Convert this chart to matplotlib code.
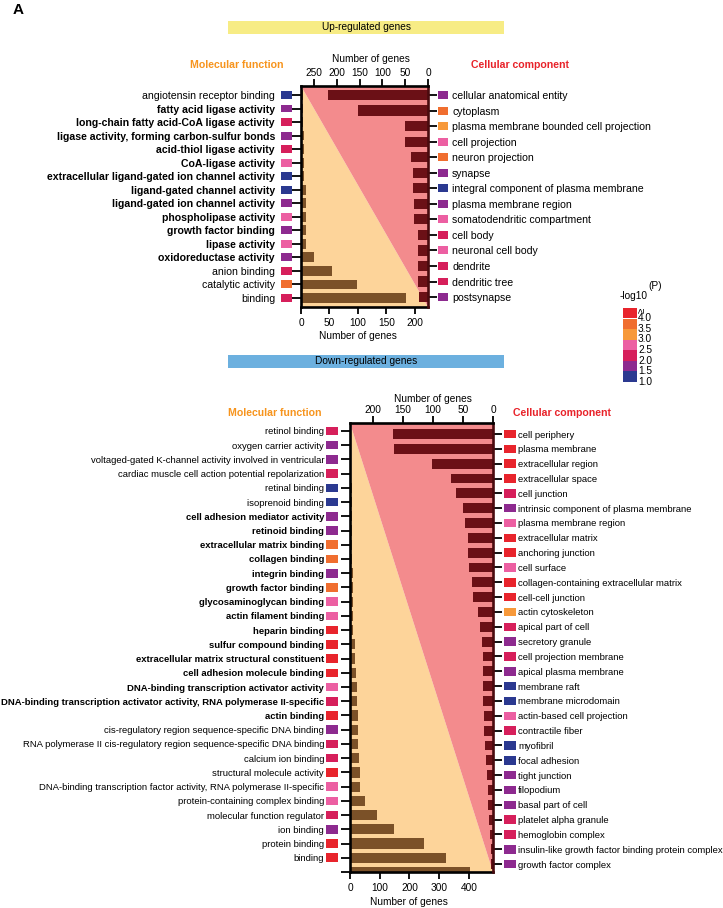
import matplotlib.pyplot as plt
from matplotlib.patches import Polygon, Rectangle
from matplotlib.transforms import ScaledTranslation

plt.rcParams['font.family'] = ['Liberation Sans', 'DejaVu Sans']

# colour classes for -log10(P)
RED = '#e8242c'
ORANGE = '#f06e2f'
LORANGE = '#f7993a'
PINK = '#ec5fa2'
CRIMSON = '#d61f5b'
PURPLE = '#8d2a8f'
BLUE = '#2b3990'

legend_labels = ['4.0', '3.5', '3.0', '2.5', '2.0', '1.5', '1.0']
legend_colors = [RED, ORANGE, LORANGE, PINK, CRIMSON, PURPLE, BLUE]

MF_BAR = '#7b5128'
CC_BAR = '#6b1016'
TRI_MF = '#fdd49a'
TRI_CC = '#f38b8d'

# ---- Up-regulated genes ----
up_mf_terms = ['angiotensin receptor binding', 'fatty acid ligase activity',
               'long-chain fatty acid-CoA ligase activity',
               'ligase activity, forming carbon-sulfur bonds', 'acid-thiol ligase activity',
               'CoA-ligase activity', 'extracellular ligand-gated ion channel activity',
               'ligand-gated channel activity', 'ligand-gated ion channel activity',
               'phospholipase activity', 'growth factor binding', 'lipase activity',
               'oxidoreductase activity', 'anion binding', 'catalytic activity', 'binding']
up_mf_counts = [3, 4, 4, 5, 5, 5, 6, 8, 8, 8, 9, 9, 23, 54, 98, 184]
up_mf_colors = [BLUE, PURPLE, CRIMSON, PURPLE, CRIMSON, PINK, BLUE, BLUE, PURPLE,
                PINK, PURPLE, PINK, PURPLE, CRIMSON, ORANGE, CRIMSON]
up_mf_bold = [False] + [True] * 12 + [False] * 3

up_cc_terms = ['cellular anatomical entity', 'cytoplasm',
               'plasma membrane bounded cell projection', 'cell projection',
               'neuron projection', 'synapse', 'integral component of plasma membrane',
               'plasma membrane region', 'somatodendritic compartment', 'cell body',
               'neuronal cell body', 'dendrite', 'dendritic tree', 'postsynapse']
up_cc_counts = [219, 153, 50, 50, 38, 32, 32, 31, 30, 23, 23, 23, 23, 20]
up_cc_colors = [PURPLE, ORANGE, LORANGE, PINK, ORANGE, PURPLE, BLUE, PURPLE, PINK,
                CRIMSON, PINK, CRIMSON, CRIMSON, PURPLE]

# ---- Down-regulated genes ----
dn_mf_terms = ['retinol binding', 'oxygen carrier activity',
               'voltaged-gated K-channel activity involved in ventricular',
               'cardiac muscle cell action potential repolarization', 'retinal binding',
               'isoprenoid binding', 'cell adhesion mediator activity', 'retinoid binding',
               'extracellular matrix binding', 'collagen binding', 'integrin binding',
               'growth factor binding', 'glycosaminoglycan binding', 'actin filament binding',
               'heparin binding', 'sulfur compound binding',
               'extracellular matrix structural constituent', 'cell adhesion molecule binding',
               'DNA-binding transcription activator activity',
               'DNA-binding transcription activator activity, RNA polymerase II-specific',
               'actin binding', 'cis-regulatory region sequence-specific DNA binding',
               'RNA polymerase II cis-regulatory region sequence-specific DNA binding',
               'calcium ion binding', 'structural molecule activity',
               'DNA-binding transcription factor activity, RNA polymerase II-specific',
               'protein-containing complex binding', 'molecular function regulator',
               'ion binding', 'protein binding', 'binding', '']
dn_mf_counts = [5, 5, 5, 5, 6, 6, 6, 7, 7, 8, 9, 9, 11, 11, 11, 17, 17, 20, 25, 25, 26,
                28, 28, 30, 34, 34, 50, 90, 148, 250, 322, 404]
dn_mf_colors = [CRIMSON, PURPLE, PURPLE, CRIMSON, BLUE, BLUE, PURPLE, PURPLE, ORANGE,
                ORANGE, PURPLE, ORANGE, PINK, PINK, RED, RED, RED, RED, PINK, CRIMSON,
                RED, PURPLE, CRIMSON, CRIMSON, RED, PINK, PINK, CRIMSON, PURPLE, RED, RED,
                'none']
dn_mf_bold = [False] * 6 + [True] * 15 + [False] * 11

dn_cc_terms = ['cell periphery', 'plasma membrane', 'extracellular region',
               'extracellular space', 'cell junction',
               'intrinsic component of plasma membrane', 'plasma membrane region',
               'extracellular matrix', 'anchoring junction', 'cell surface',
               'collagen-containing extracellular matrix', 'cell-cell junction',
               'actin cytoskeleton', 'apical part of cell', 'secretory granule',
               'cell projection membrane', 'apical plasma membrane', 'membrane raft',
               'membrane microdomain', 'actin-based cell projection', 'contractile fiber',
               'myofibril', 'focal adhesion', 'tight junction', 'filopodium',
               'basal part of cell', 'platelet alpha granule', 'hemoglobin complex',
               'insulin-like growth factor binding protein complex', 'growth factor complex']
dn_cc_counts = [167, 165, 102, 70, 62, 50, 46, 41, 41, 40, 35, 33, 25, 22, 19, 17, 17,
                17, 17, 15, 15, 13, 11, 10, 9, 8, 6, 5, 4, 3]
dn_cc_colors = [RED, RED, RED, RED, CRIMSON, PURPLE, PINK, RED, RED, PINK, RED, RED,
                LORANGE, CRIMSON, PURPLE, CRIMSON, PURPLE, BLUE, BLUE, PINK, CRIMSON,
                BLUE, BLUE, PURPLE, PURPLE, PURPLE, CRIMSON, CRIMSON, PURPLE, PURPLE]

W, H = 723, 908
fig = plt.figure(figsize=(W / 100, H / 100), dpi=100)


def px_rect(left, top, right, bottom):
    return [left / W, 1 - bottom / H, (right - left) / W, (bottom - top) / H]


def marks(ax, n, colors, dx, size, ratio):
    # coloured p-value boxes beside the tick labels
    tr = ax.get_yaxis_transform() + ScaledTranslation(dx / 100, 0, fig.dpi_scale_trans)
    verts = [(-0.5, -0.5 * ratio), (0.5, -0.5 * ratio), (0.5, 0.5 * ratio), (-0.5, 0.5 * ratio)]
    side = 0 if dx < 0 else 1
    ax.scatter([side] * n, range(n), s=size ** 2, c=colors, marker=verts,
               transform=tr, clip_on=False, linewidths=0, zorder=5)


def panel(rect, mf_terms, mf_counts, mf_colors, mf_bold, cc_terms, cc_counts, cc_colors,
          mf_lim, cc_lim, mf_ylim, cc_ylim, mf_ticks, cc_ticks, fs, box, boxdx, lab):
    ax = fig.add_axes(rect)
    ax.add_patch(Polygon([[0, 1], [0, 0], [1, 0]], closed=True, transform=ax.transAxes,
                         facecolor=TRI_MF, edgecolor='none', zorder=0))
    ax.add_patch(Polygon([[0, 1], [1, 1], [1, 0]], closed=True, transform=ax.transAxes,
                         facecolor=TRI_CC, edgecolor='none', zorder=0))
    n = len(mf_terms)
    ax.barh(range(n), mf_counts, height=0.72, color=MF_BAR, zorder=2)
    ax.set_xlim(*mf_lim)
    ax.set_ylim(*mf_ylim)
    ax.set_xticks(mf_ticks)
    ax.set_yticks(range(n))
    ax.set_yticklabels(mf_terms)
    for t, b in zip(ax.get_yticklabels(), mf_bold):
        if b:
            t.set_fontweight('bold')
    ax.tick_params(axis='y', length=6.5, width=1.3, pad=boxdx[2], labelsize=fs)
    ax.tick_params(axis='x', length=5, width=1.3, pad=3, labelsize=7.3)
    for s in ['top', 'right']:
        ax.spines[s].set_visible(False)
    for s in ['left', 'bottom']:
        ax.spines[s].set_linewidth(1.9)
    ax.set_xlabel('Number of genes', fontsize=7.3)
    ax.xaxis.set_label_coords(lab[0], lab[1])
    marks(ax, n, mf_colors, boxdx[0], box, 0.72)

    ax2 = fig.add_axes(rect)
    ax2.patch.set_visible(False)
    m = len(cc_terms)
    ax2.barh(range(m), cc_counts, height=0.66, color=CC_BAR, zorder=2)
    ax2.set_xlim(*cc_lim)
    ax2.set_ylim(*cc_ylim)
    ax2.xaxis.tick_top()
    ax2.xaxis.set_label_position('top')
    ax2.yaxis.tick_right()
    ax2.set_xticks(cc_ticks)
    ax2.set_yticks(range(m))
    ax2.set_yticklabels(cc_terms)
    ax2.tick_params(axis='y', length=6.5, width=1.3, pad=boxdx[3], labelsize=fs)
    ax2.tick_params(axis='x', length=5, width=1.3, pad=1, labelsize=7.3)
    for s in ['bottom', 'left']:
        ax2.spines[s].set_visible(False)
    ax2.spines['top'].set_linewidth(1.9)
    ax2.spines['right'].set_linewidth(1.9)
    ax2.spines['right'].set_color('#4a0a0e')
    ax2.set_xlabel('Number of genes', fontsize=7.3)
    ax2.xaxis.set_label_coords(lab[2], lab[3])
    marks(ax2, m, cc_colors, boxdx[1], box, 0.72)
    return ax, ax2


panel(px_rect(301, 86, 428, 307), up_mf_terms, up_mf_counts, up_mf_colors, up_mf_bold,
      up_cc_terms, up_cc_counts, up_cc_colors,
      (0, 223), (278.5, 0), (15.67, -0.665), (13.64, -0.58),
      [0, 50, 100, 150, 200], [0, 50, 100, 150, 200, 250],
      7.6, 7.9, (-14.5, 15, 12.2, 10.8), (0.449, -0.109, 0.551, 1.109))

panel(px_rect(350, 423, 493, 872), dn_mf_terms, dn_mf_counts, dn_mf_colors, dn_mf_bold,
      dn_cc_terms, dn_cc_counts, dn_cc_colors,
      (0, 481), (238, 0), (30.71, -0.557), (29.53, -0.742),
      [0, 100, 200, 300, 400], [0, 50, 100, 150, 200],
      6.8, 8.6, (-18, 17, 12.2, 11.5), (0.413, -0.056, 0.58, 1.047))


def ftext(x, y, s, **kw):
    fig.text(x / W, 1 - y / H, s, **kw)


ftext(18, 10, 'A', fontsize=11, fontweight='bold', ha='center', va='center')

# banners
for (top, color, title) in [(21, '#f7ec85', 'Up-regulated genes'),
                            (355, '#6cb0df', 'Down-regulated genes')]:
    fig.patches.append(Rectangle((228 / W, 1 - (top + 13) / H), 276 / W, 13 / H,
                                 transform=fig.transFigure, facecolor=color,
                                 edgecolor='none'))
    ftext(366, top + 6.5, title, fontsize=7.3, ha='center', va='center')

ftext(237, 65, 'Molecular function', fontsize=7.6, fontweight='bold', color='#f7941d',
      ha='center', va='center')
ftext(520, 65, 'Cellular component', fontsize=7.6, fontweight='bold', color='#e8232a',
      ha='center', va='center')
ftext(275, 413, 'Molecular function', fontsize=7.6, fontweight='bold', color='#f7941d',
      ha='center', va='center')
ftext(562, 413, 'Cellular component', fontsize=7.6, fontweight='bold', color='#e8232a',
      ha='center', va='center')

# -log10(P) legend
ftext(620, 296, '-log10', fontsize=7.3, ha='left', va='center')
ftext(648, 286, '(P)', fontsize=7.3, ha='left', va='center')
bh = 10.5
for i, (lbl, col) in enumerate(zip(legend_labels, legend_colors)):
    top = 308 + i * bh
    fig.patches.append(Rectangle((623 / W, 1 - (top + bh) / H), 14 / W, bh / H,
                                 transform=fig.transFigure, facecolor=col,
                                 edgecolor='none'))
    ftext(638, top + bh, lbl, fontsize=7.3, ha='left', va='center')
ftext(642, 310, '≥', fontsize=7, ha='center', va='center', rotation=90)

fig.savefig('out.png', dpi=100)
